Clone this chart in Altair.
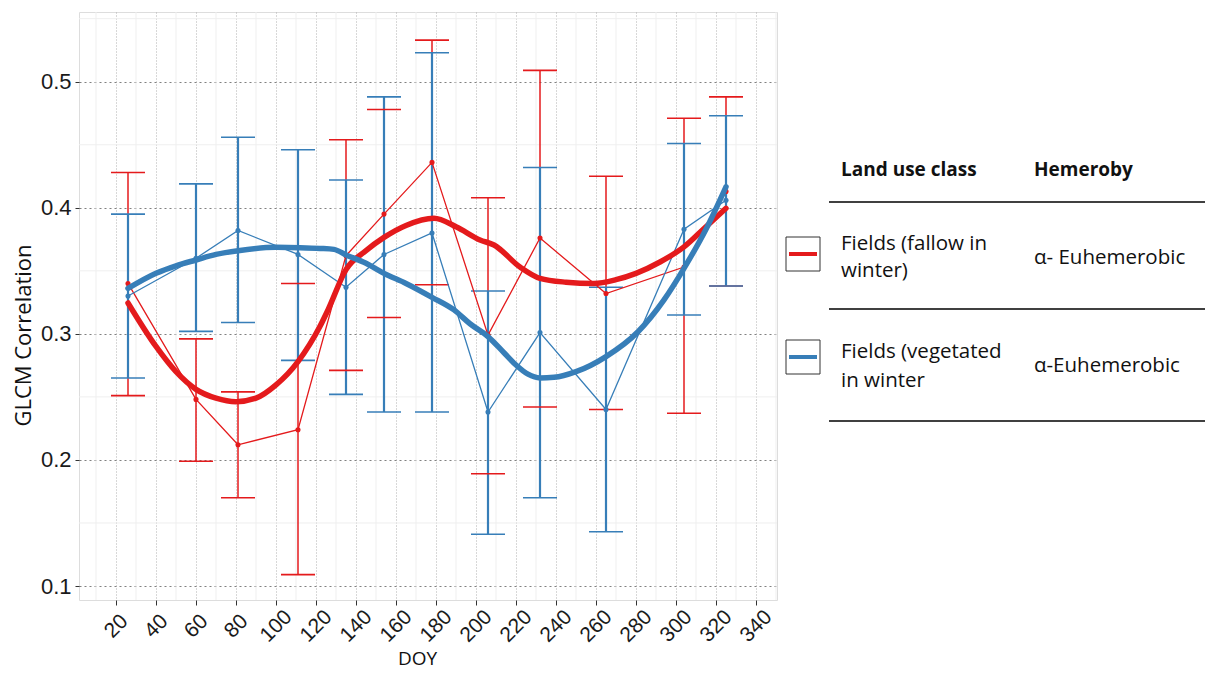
import altair as alt
import pandas as pd

# ---------------- data ----------------
doy = [26, 60, 81, 111, 135, 154, 178, 206, 232, 265, 304, 325]

fallow_mean = [0.340, 0.248, 0.212, 0.224, 0.362, 0.395, 0.436, 0.299, 0.376, 0.332, 0.353, 0.413]
fallow_upper = [0.428, 0.296, 0.254, 0.340, 0.454, 0.478, 0.533, 0.408, 0.509, 0.425, 0.471, 0.488]
fallow_lower = [0.251, 0.199, 0.170, 0.109, 0.271, 0.313, 0.339, 0.189, 0.242, 0.240, 0.237, 0.338]

veg_mean = [0.330, 0.360, 0.382, 0.363, 0.337, 0.363, 0.380, 0.238, 0.301, 0.240, 0.383, 0.406]
veg_upper = [0.395, 0.419, 0.456, 0.446, 0.422, 0.488, 0.523, 0.334, 0.432, 0.337, 0.451, 0.473]
veg_lower = [0.265, 0.302, 0.309, 0.279, 0.252, 0.238, 0.238, 0.141, 0.170, 0.143, 0.315, 0.338]

smooth_fallow_doy = [26, 40, 50, 60, 70, 80, 90, 100, 111, 122, 126, 135, 145, 154, 165, 179,
                     190, 202, 209, 222, 232, 245, 259, 270, 280, 292, 304, 315, 325]
smooth_fallow = [0.3245, 0.290, 0.270, 0.256, 0.249, 0.2462, 0.249, 0.2595, 0.278, 0.306, 0.319,
                 0.351, 0.366, 0.3765, 0.386, 0.3917, 0.385, 0.3745, 0.3705, 0.353, 0.344, 0.341,
                 0.340, 0.343, 0.348, 0.357, 0.369, 0.385, 0.3996]

smooth_veg_doy = [26, 40, 50, 60, 70, 81, 100, 112, 122, 129, 135, 145, 154, 165, 178, 189, 197,
                  206, 214, 220, 226, 232, 239, 250, 265, 281, 294, 304, 315, 325]
smooth_veg = [0.336, 0.348, 0.354, 0.3586, 0.363, 0.366, 0.3687, 0.3684, 0.3678, 0.367, 0.3626,
              0.356, 0.348, 0.340, 0.329, 0.319, 0.308, 0.2978, 0.285, 0.2753, 0.268, 0.265,
              0.2655, 0.270, 0.282, 0.3017, 0.327, 0.352, 0.383, 0.4167]

classes = ["Fields (fallow in winter)", "Fields (vegetated in winter"]
colors = ["#E41A1C", "#377EB8"]

x_ticks = list(range(20, 341, 20))
x_minor = list(range(10, 351, 20))
y_ticks = [0.1, 0.2, 0.3, 0.4, 0.5]
y_minor = [0.15, 0.25, 0.35, 0.45, 0.55]

legend_headers = ["Land use class", "Hemeroby"]
legend_class_lines = [["Fields (fallow in", "winter)"], ["Fields (vegetated", "in winter"]]
legend_hemeroby = ["\u03b1- Euhemerobic", "\u03b1-Euhemerobic"]

# ---------------- tables ----------------
means = pd.DataFrame({
    "cls": [classes[0]] * len(doy) + [classes[1]] * len(doy),
    "doy": doy + doy,
    "mean": fallow_mean + veg_mean,
    "upper": fallow_upper + veg_upper,
    "lower": fallow_lower + veg_lower,
})
smooth = pd.DataFrame({
    "cls": [classes[0]] * len(smooth_fallow_doy) + [classes[1]] * len(smooth_veg_doy),
    "doy": smooth_fallow_doy + smooth_veg_doy,
    "val": smooth_fallow + smooth_veg,
})

W, H = 698, 588
xscale = alt.Scale(domain=[1.5, 350.5], nice=False, zero=False)
yscale = alt.Scale(domain=[0.0889, 0.5553], nice=False, zero=False)
cscale = alt.Scale(domain=classes, range=colors)
wscale = alt.Scale(domain=classes, range=[1.5, 2.2])

x_axis = alt.Axis(values=x_ticks, labelAngle=-45, labelAlign="center", labelBaseline="middle",
                  labelFont="Liberation Sans", labelFontSize=21, labelColor="#1a1a1a",
                  labelPadding=21, tickSize=5, tickColor="#333333", domain=False,
                  grid=True, gridColor="#b0b0b0", gridDash=[1, 2], gridWidth=1,
                  title="DOY", titleFont="Open Sans", titleFontSize=19, titleFontWeight="normal",
                  titleColor="#111111", titleX=338, titleY=58, titleBaseline="middle",
                  titleAlign="center")
y_axis = alt.Axis(values=y_ticks, format=".1f", labelFont="Liberation Sans", labelFontSize=22,
                  labelColor="#1a1a1a", labelPadding=4, tickSize=4, tickColor="#333333",
                  domain=False, grid=True, gridColor="#808080", gridDash=[2, 3], gridWidth=1.2,
                  title="GLCM Correlation", titleFont="Open Sans", titleFontSize=22,
                  titleFontWeight="normal", titleColor="#111111", titleX=-56, titleY=323,
                  titleAngle=-90, titleAlign="center", titleBaseline="middle")

minor_x = alt.Chart(pd.DataFrame({"v": x_minor})).mark_rule(color="#efefef", strokeWidth=1).encode(
    x=alt.X("v:Q", scale=xscale, axis=x_axis))
minor_y = alt.Chart(pd.DataFrame({"v": y_minor})).mark_rule(color="#efefef", strokeWidth=1).encode(
    y=alt.Y("v:Q", scale=yscale, axis=y_axis))

base = alt.Chart(means)
col = alt.Color("cls:N", scale=cscale, legend=None)
sw = alt.StrokeWidth("cls:N", scale=wscale, legend=None)

bars = base.mark_rule().encode(
    x=alt.X("doy:Q", scale=xscale), y=alt.Y("lower:Q", scale=yscale), y2="upper:Q",
    color=col, strokeWidth=sw)

caps_top = base.transform_calculate(a="datum.doy - 8.5", b="datum.doy + 8.5").mark_rule(
    strokeWidth=1.6).encode(x=alt.X("a:Q", scale=xscale), x2="b:Q",
                            y=alt.Y("upper:Q", scale=yscale), color=col)
caps_bot = base.transform_calculate(a="datum.doy - 8.5", b="datum.doy + 8.5").mark_rule(
    strokeWidth=1.6).encode(x=alt.X("a:Q", scale=xscale), x2="b:Q",
                            y=alt.Y("lower:Q", scale=yscale), color=col)

thin = base.mark_line(strokeWidth=1.3).encode(
    x=alt.X("doy:Q", scale=xscale), y=alt.Y("mean:Q", scale=yscale), color=col)
pts = base.mark_circle(size=26, opacity=1).encode(
    x=alt.X("doy:Q", scale=xscale), y=alt.Y("mean:Q", scale=yscale), color=col)

thick = alt.Chart(smooth).mark_line(strokeWidth=5.5, interpolate="monotone",
                                    strokeCap="round").encode(
    x=alt.X("doy:Q", scale=xscale), y=alt.Y("val:Q", scale=yscale), color=col)


# ---------------- legend table (annotation) ----------------
def one():
    return alt.Chart(pd.DataFrame({"k": [0]}))


def txt(s, x, y, bold=False, size=20.5):
    return alt.Chart(pd.DataFrame({"t": [s]})).mark_text(
        align="left", baseline="alphabetic", font="Open Sans", fontSize=size,
        fontWeight="bold" if bold else "normal", color="#111111").encode(
        x=alt.value(x), y=alt.value(y), text="t:N")


def hline(y, x1=750, x2=1135):
    return one().mark_rule(color="#404040", strokeWidth=2).encode(
        x=alt.value(x1), x2=alt.value(x2), y=alt.value(y))


def swatch(y_top, color):
    box = one().mark_rect(fill="white", stroke="#333333", strokeWidth=1).encode(
        x=alt.value(707), x2=alt.value(741), y=alt.value(y_top), y2=alt.value(y_top + 34))
    ln = one().mark_rule(color=color, strokeWidth=4).encode(
        x=alt.value(710), x2=alt.value(738), y=alt.value(y_top + 17))
    return [box, ln]


legend_layers = [
    txt(legend_headers[0], 762, 164, bold=True, size=19),
    txt(legend_headers[1], 955, 164, bold=True, size=19),
    hline(190),
    *swatch(225, colors[0]),
    txt(legend_class_lines[0][0], 762, 238),
    txt(legend_class_lines[0][1], 762, 265),
    txt(legend_hemeroby[0], 955, 252),
    hline(297),
    *swatch(328, colors[1]),
    txt(legend_class_lines[1][0], 762, 346),
    txt(legend_class_lines[1][1], 762, 375),
    txt(legend_hemeroby[1], 955, 360),
    hline(409),
]

chart = alt.layer(minor_x, minor_y, bars, caps_top, caps_bot, thin, pts, thick,
                  *legend_layers).properties(
    width=W, height=H,
    autosize=alt.AutoSizeParams(type="none"),
    padding={"left": 71, "top": 4, "right": 428, "bottom": 71},
).configure_view(stroke="#b3b3b3", strokeWidth=1).configure(background="white")

chart.save("out.html", embed_options={"renderer": "svg", "actions": False})
